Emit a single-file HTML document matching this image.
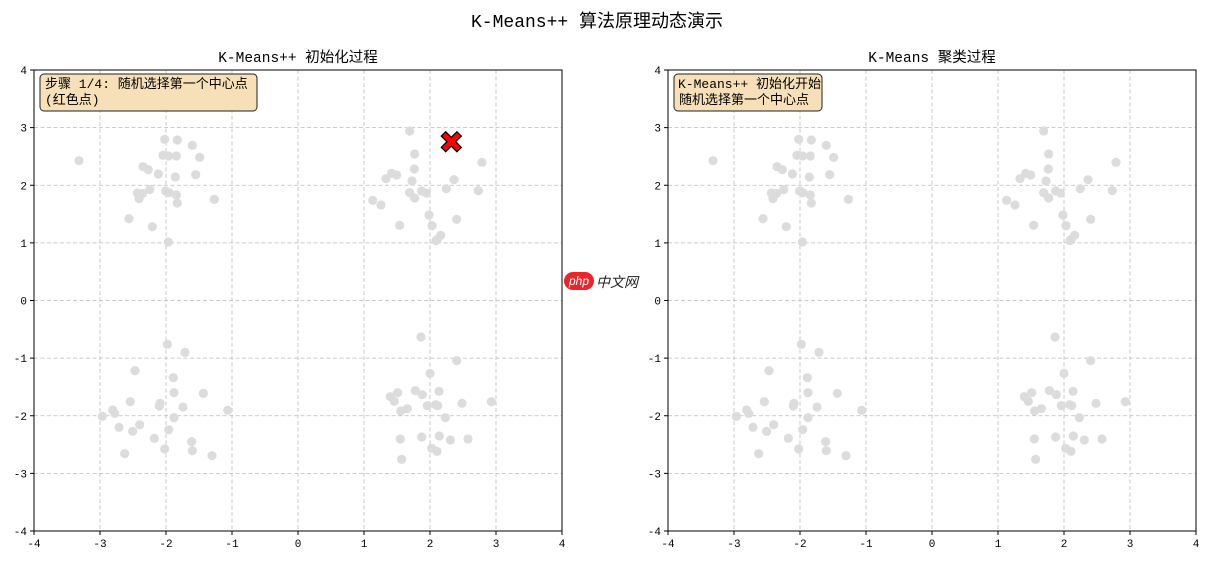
<!DOCTYPE html>
<html><head><meta charset="utf-8"><style>
body{margin:0;background:#fff;width:1209px;height:563px;overflow:hidden}
svg text{font-family:"Liberation Mono","Noto Sans CJK SC",monospace}
</style></head><body>
<svg id="s" width="1209" height="563" xmlns="http://www.w3.org/2000/svg">
<text x="597" y="27" font-size="18" text-anchor="middle" fill="#000">K-Means++ 算法原理动态演示</text>
<text x="298" y="62" font-size="14.5" text-anchor="middle">K-Means++ 初始化过程</text>
<text x="932" y="62" font-size="14.5" text-anchor="middle">K-Means 聚类过程</text>
</svg>
<script>
const s=document.getElementById('s');let h='';
const pts=[];
function add(cx,cy,arr){for(const[a,b] of arr)pts.push([cx+a/3,cy+b/3]);}
add(34,120,[[392,58],[430,60],[475,76],[135,122],[387,106],[404,108],[427,108],[497,112],[327,140],[343,149],[373,162],[424,171],[485,164],[347,209],[310,219],[326,220],[395,213],[405,218],[427,225],[315,236],[430,249],[541,238],[285,296],[355,320],[403,366]]);
add(340,120,[[209,33],[224,102],[426,127],[223,147],[155,160],[170,165],[138,176],[216,183],[342,179],[319,206],[415,212],[209,218],[245,213],[259,219],[224,234],[98,241],[123,255],[267,285],[350,298],[179,316],[276,317],[302,346],[292,358],[288,362]]);
add(34,330,[[400,43],[453,67],[303,122],[418,143],[420,188],[508,190],[289,215],[378,220],[376,228],[236,240],[242,250],[447,231],[205,259],[420,263],[581,241],[255,292],[317,284],[296,304],[404,299],[361,325],[473,335],[392,357],[475,362],[272,371],[534,377]]);
add(340,320,[[243,51],[350,122],[270,160],[226,212],[173,218],[247,224],[297,214],[151,230],[163,244],[262,257],[287,254],[293,257],[366,250],[454,245],[202,266],[182,273],[316,293],[181,357],[245,351],[298,348],[331,360],[384,357],[275,385],[291,394],[185,418]]);
for(const L of [34,668]){
 const W=528,T=70,B=531;
 for(let i=-4;i<=4;i++){
  const x=L+(i+4)*66, y=B-(i+4)*57.625;
  if(i>-4&&i<4){h+=`<line x1="${x}" y1="${T}" x2="${x}" y2="${B}" stroke="#bbb" stroke-width="0.8" stroke-dasharray="4,2.5"/>`;
  h+=`<line x1="${L}" y1="${y}" x2="${L+W}" y2="${y}" stroke="#bbb" stroke-width="0.8" stroke-dasharray="4,2.5"/>`;}
  h+=`<line x1="${x}" y1="${B}" x2="${x}" y2="${B+4}" stroke="#000"/>`;
  h+=`<line x1="${L}" y1="${y}" x2="${L-4}" y2="${y}" stroke="#000"/>`;
  h+=`<text x="${x}" y="${B+16}" font-size="11" text-anchor="middle">${i}</text>`;
  h+=`<text x="${L-7}" y="${y+4}" font-size="11" text-anchor="end">${i}</text>`;
 }
 const off=L-34;
 for(const[x,y] of pts)h+=`<circle cx="${x+off}" cy="${y}" r="4.6" fill="#dcdcdc"/>`;
 h+=`<rect x="${L}" y="${T}" width="${W}" height="${B-T}" fill="none" stroke="#000" stroke-width="1"/>`;
}
h+=`<path d="M-8,-4.5 L-4.5,-8 L0,-3.5 L4.5,-8 L8,-4.5 L3.5,0 L8,4.5 L4.5,8 L0,3.5 L-4.5,8 L-8,4.5 L-3.5,0Z" transform="translate(451.3,141.7) scale(1.25)" fill="#f00" stroke="#000" stroke-width="1"/>`;
h+=`<rect x="40" y="74" width="217" height="37" rx="4" fill="#f7e0b8" stroke="#222" stroke-width="1"/>`;
h+=`<text x="45" y="88" font-size="13">步骤 1/4: 随机选择第一个中心点</text><text x="45" y="104" font-size="13">(红色点)</text>`;
h+=`<rect x="674" y="74" width="148" height="37" rx="4" fill="#f7e0b8" stroke="#222" stroke-width="1"/>`;
h+=`<text x="678" y="88" font-size="13">K-Means++ 初始化开始</text><text x="679" y="104" font-size="13">随机选择第一个中心点</text>`;
h+=`<rect x="564" y="272" width="30" height="18" rx="9" fill="#e8262b"/><text x="579" y="285" font-size="12" font-style="italic" fill="#fff" text-anchor="middle" style="font-family:'Liberation Sans',sans-serif">php</text>`;
h+=`<text x="596" y="287" font-size="14" font-style="italic" fill="#222">中文网</text>`;
s.insertAdjacentHTML('beforeend',h);
</script>
</body></html>
